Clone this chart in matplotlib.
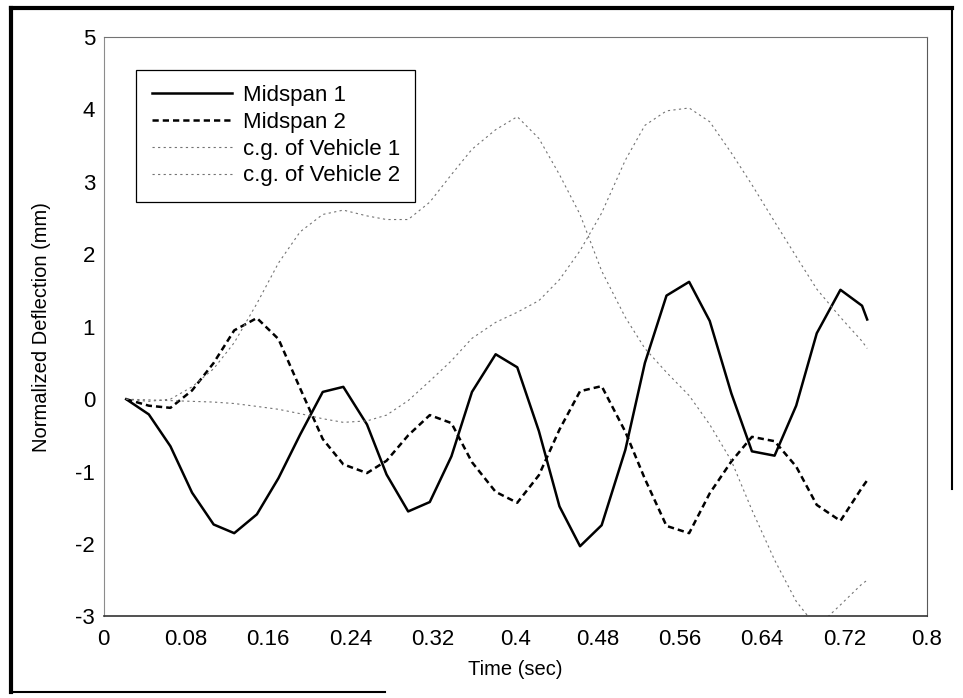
import numpy as np
import matplotlib.pyplot as plt
from matplotlib.lines import Line2D

# values
time = [0.022, 0.044, 0.065, 0.086, 0.107, 0.127, 0.149, 0.170, 0.191, 0.213,
        0.233, 0.256, 0.275, 0.296, 0.317, 0.338, 0.358, 0.381, 0.402, 0.423,
        0.443, 0.463, 0.484, 0.507, 0.526, 0.547, 0.569, 0.589, 0.610, 0.630,
        0.652, 0.673, 0.693, 0.716, 0.737, 0.742]

midspan1 = [0.0, -0.21, -0.65, -1.29, -1.73, -1.85, -1.59, -1.09, -0.49, 0.10,
            0.17, -0.35, -1.04, -1.55, -1.42, -0.79, 0.10, 0.62, 0.44, -0.44,
            -1.48, -2.03, -1.74, -0.70, 0.50, 1.43, 1.62, 1.08, 0.08, -0.72,
            -0.78, -0.09, 0.91, 1.51, 1.29, 1.10]

midspan2 = [0.0, -0.09, -0.12, 0.12, 0.50, 0.95, 1.12, 0.83, 0.15, -0.55,
            -0.90, -1.02, -0.85, -0.50, -0.22, -0.33, -0.87, -1.28, -1.43, -1.05,
            -0.42, 0.11, 0.18, -0.45, -1.10, -1.75, -1.85, -1.30, -0.86, -0.52,
            -0.58, -0.93, -1.46, -1.68, -1.22, -1.12]

vehicle1 = [0.0, -0.03, 0.0, 0.17, 0.42, 0.78, 1.32, 1.88, 2.31, 2.55,
            2.61, 2.53, 2.48, 2.48, 2.72, 3.10, 3.45, 3.72, 3.90, 3.60,
            3.10, 2.55, 1.77, 1.13, 0.70, 0.37, 0.05, -0.35, -0.85, -1.53,
            -2.22, -2.79, -3.15, -2.84, -2.55, -2.50]

vehicle2 = [0.0, -0.01, -0.02, -0.03, -0.04, -0.06, -0.10, -0.14, -0.20, -0.27,
            -0.32, -0.30, -0.22, -0.02, 0.25, 0.53, 0.84, 1.06, 1.20, 1.36,
            1.65, 2.05, 2.57, 3.30, 3.78, 3.98, 4.02, 3.83, 3.40, 2.96,
            2.45, 1.97, 1.52, 1.13, 0.80, 0.70]

xticks = [0, 0.08, 0.16, 0.24, 0.32, 0.4, 0.48, 0.56, 0.64, 0.72, 0.8]
xtick_labels = ["0", "0.08", "0.16", "0.24", "0.32", "0.4", "0.48", "0.56", "0.64", "0.72", "0.8"]
yticks = [-3, -2, -1, 0, 1, 2, 3, 4, 5]

plt.rcParams['font.family'] = ['Liberation Sans', 'DejaVu Sans']
plt.rcParams['axes.unicode_minus'] = False

fig = plt.figure(figsize=(9.63, 6.98), dpi=100)
ax = fig.add_axes([0.1075, 0.1168, 0.855, 0.8302])

ax.plot(time, midspan1, color="black", lw=1.8, label="Midspan 1")
ax.plot(time, midspan2, color="black", lw=1.8, linestyle=(0, (2.5, 1.6)), label="Midspan 2")
ax.plot(time, vehicle1, color="0.45", lw=0.8, linestyle=(0, (2, 3)), label="c.g. of Vehicle 1")
ax.plot(time, vehicle2, color="0.45", lw=0.8, linestyle=(0, (2, 3)), label="c.g. of Vehicle 2")

ax.set_xlim(0, 0.8)
ax.set_ylim(-3, 5)
ax.set_xticks(xticks)
ax.set_xticklabels(xtick_labels)
ax.set_yticks(yticks)
ax.tick_params(axis="both", length=0, labelsize=16)
ax.tick_params(axis="x", pad=9)
ax.tick_params(axis="y", pad=6)

ax.spines["left"].set_color("0.55")
ax.spines["left"].set_linewidth(0.8)
ax.spines["bottom"].set_color("0.2")
ax.spines["bottom"].set_linewidth(1.2)
ax.spines["top"].set_color("0.45")
ax.spines["top"].set_linewidth(0.8)
ax.spines["right"].set_color("0.35")
ax.spines["right"].set_linewidth(0.8)

ax.set_xlabel("Time (sec)", fontsize=14.5)
ax.set_ylabel("Normalized Deflection (mm)", fontsize=14.5)
ax.xaxis.set_label_coords(0.5, -0.075)
ax.yaxis.set_label_coords(-0.064, 0.5)

leg = ax.legend(loc="upper left", bbox_to_anchor=(0.040, 0.943), fontsize=16,
                frameon=True, fancybox=False, edgecolor="black", framealpha=1,
                handlelength=3.6, handletextpad=0.5, labelspacing=0.26,
                borderpad=0.68, borderaxespad=0)
leg.get_frame().set_linewidth(0.9)

# thick border of the scanned figure
fig.add_artist(Line2D([0.0114, 0.9886], [0.9885, 0.9885], color="black", lw=3, transform=fig.transFigure))
fig.add_artist(Line2D([0.0114, 0.0114], [0.0086, 0.9885], color="black", lw=3, transform=fig.transFigure))
fig.add_artist(Line2D([0.9886, 0.9886], [0.30, 0.9885], color="black", lw=1.5, transform=fig.transFigure))
fig.add_artist(Line2D([0.0114, 0.40], [0.0086, 0.0086], color="black", lw=1.5, transform=fig.transFigure))

plt.savefig("out.png", dpi=100)
